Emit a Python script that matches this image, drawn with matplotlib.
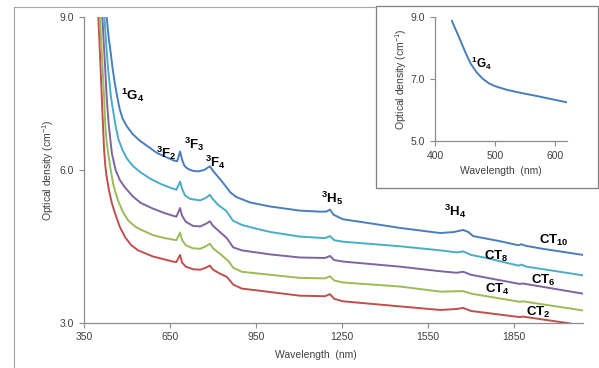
import numpy as np
import matplotlib
matplotlib.use("Agg")
import matplotlib.pyplot as plt
from matplotlib.lines import Line2D

plt.rcParams['font.family'] = ['Liberation Sans', 'DejaVu Sans']
plt.rcParams['mathtext.fontset'] = 'custom'
plt.rcParams['mathtext.rm'] = 'Liberation Sans'
plt.rcParams['mathtext.bf'] = 'Liberation Sans:bold'

# CT2 (red)
wl_ct2 = [400, 404, 408, 412, 416, 420, 424, 428, 437, 447, 458, 475, 493, 515, 539, 590, 632, 660, 672, 685,
          692, 705, 730, 755, 775, 789, 800, 825, 848, 870, 900, 988, 1103, 1190, 1208, 1222, 1253, 1452,
          1592, 1650, 1672, 1700, 1870, 1880, 2040, 2090]
od_ct2 = [9.0, 8.5, 7.98, 7.43, 6.9, 6.4, 6.1, 5.9, 5.6, 5.35, 5.15, 4.88, 4.68, 4.52, 4.42, 4.3, 4.24, 4.2,
          4.19, 4.33, 4.18, 4.1, 4.05, 4.04, 4.08, 4.12, 4.04, 3.96, 3.9, 3.75, 3.67, 3.61, 3.53, 3.52, 3.56,
          3.47, 3.42, 3.32, 3.25, 3.27, 3.29, 3.23, 3.11, 3.12, 2.99, 2.92]
# CT4 (green)
wl_ct4 = [406, 410, 415, 420, 424, 428, 435, 443, 452, 460, 470, 485, 505, 530, 551, 590, 632, 672, 685, 692,
          705, 730, 755, 775, 789, 800, 825, 855, 870, 900, 1000, 1103, 1190, 1208, 1222, 1253, 1452, 1592,
          1672, 1700, 1870, 1880, 2090]
od_ct4 = [9.0, 8.5, 7.98, 7.43, 6.9, 6.6, 6.3, 6.0, 5.72, 5.55, 5.38, 5.18, 5.0, 4.88, 4.82, 4.72, 4.66,
          4.62, 4.77, 4.62, 4.52, 4.46, 4.45, 4.5, 4.55, 4.46, 4.35, 4.2, 4.08, 4.0, 3.94, 3.88, 3.87, 3.91,
          3.83, 3.79, 3.71, 3.61, 3.62, 3.57, 3.41, 3.42, 3.24]
# CT6 (purple)
wl_ct6 = [414, 419, 424, 429, 436, 447, 460, 475, 492, 520, 548, 590, 632, 660, 672, 685, 692, 705, 730, 755,
          775, 789, 800, 820, 848, 870, 900, 1000, 1103, 1190, 1208, 1222, 1253, 1452, 1592, 1650, 1672,
          1700, 1870, 1880, 2090]
od_ct6 = [9.0, 8.48, 7.98, 7.43, 6.9, 6.33, 6.0, 5.8, 5.66, 5.48, 5.35, 5.24, 5.15, 5.1, 5.08, 5.25, 5.1,
          4.98, 4.9, 4.89, 4.94, 4.99, 4.9, 4.8, 4.66, 4.48, 4.42, 4.34, 4.28, 4.27, 4.31, 4.23, 4.2, 4.1,
          4.01, 3.98, 4.0, 3.94, 3.76, 3.77, 3.57]
# CT8 (cyan)
wl_ct8 = [421, 427, 434, 444, 459, 470, 485, 500, 520, 545, 580, 615, 650, 672, 685, 692, 702, 720, 755, 775,
          789, 800, 820, 845, 870, 900, 940, 1000, 1103, 1190, 1208, 1222, 1253, 1452, 1592, 1650, 1672,
          1700, 1753, 1865, 1875, 1893, 2090]
od_ct8 = [9.0, 8.5, 7.98, 7.43, 6.9, 6.6, 6.38, 6.22, 6.08, 5.96, 5.83, 5.73, 5.65, 5.61, 5.77, 5.63, 5.5,
          5.43, 5.4, 5.45, 5.51, 5.42, 5.3, 5.2, 5.0, 4.92, 4.86, 4.78, 4.69, 4.66, 4.7, 4.62, 4.59, 4.5,
          4.42, 4.38, 4.4, 4.33, 4.27, 4.12, 4.14, 4.1, 3.93]
# CT10 (blue)
wl_ct10 = [429, 436, 443, 450, 458, 466, 475, 485, 500, 520, 545, 575, 605, 640, 665, 675, 685, 692, 700, 712,
           730, 750, 770, 789, 800, 815, 830, 845, 860, 880, 929, 1000, 1103, 1170, 1195, 1208, 1220, 1253,
           1337, 1452, 1592, 1640, 1672, 1690, 1707, 1800, 1865, 1875, 1890, 1950, 2090]
od_ct10 = [9.0, 8.6, 8.3, 7.98, 7.68, 7.43, 7.18, 7.0, 6.85, 6.7, 6.57, 6.45, 6.33, 6.24, 6.18, 6.17, 6.36,
           6.2, 6.08, 6.02, 5.98, 5.97, 6.0, 6.07, 5.98, 5.88, 5.78, 5.67, 5.56, 5.47, 5.36, 5.28, 5.2, 5.18,
           5.18, 5.22, 5.12, 5.03, 4.96, 4.86, 4.76, 4.78, 4.82, 4.78, 4.7, 4.6, 4.52, 4.54, 4.51, 4.45, 4.33]

# inset: CT10 near the 1G4 band
wl_inset = [428, 440, 452, 460, 470, 480, 490, 500, 520, 541, 570, 597, 619]
od_inset = [8.88, 8.35, 7.8, 7.48, 7.2, 7.0, 6.86, 6.77, 6.65, 6.56, 6.45, 6.34, 6.25]

series = [
    (wl_ct2, od_ct2, '#C0504D', 'CT', '2', 1890, 3.06),
    (wl_ct4, od_ct4, '#9BBB59', 'CT', '4', 1750, 3.5),
    (wl_ct6, od_ct6, '#8064A2', 'CT', '6', 1910, 3.68),
    (wl_ct8, od_ct8, '#4BACC6', 'CT', '8', 1745, 4.15),
    (wl_ct10, od_ct10, '#4A7EBB', 'CT', '10', 1935, 4.47),
]
bands = [('1', 'G', '4', 478, 7.3), ('3', 'F', '2', 600, 6.15), ('3', 'F', '3', 697, 6.33),
         ('3', 'F', '4', 773, 5.98), ('3', 'H', '5', 1175, 5.27), ('3', 'H', '4', 1605, 5.02)]

xticks = [350, 650, 950, 1250, 1550, 1850]
yticks = [3.0, 6.0, 9.0]

grey = '#8c8c8c'
txt = '#404040'

fig = plt.figure(figsize=(5.99, 3.68), dpi=100)
ax = fig.add_axes([84/599, 1-322.7/368, (583-84)/599, (322.7-17)/368])

for wl, od, c, pre, sub, lx, ly in series:
    ax.plot(wl, od, color=c, lw=1.4, solid_joinstyle='round', solid_capstyle='round')
    ax.text(lx, ly, r'$\mathbf{%s}_{\mathbf{%s}}$' % (pre, sub), fontsize=9.5, ha='left', va='bottom')

for sup, letter, sub, bx, by in bands:
    ax.text(bx, by, r'$^{\mathbf{%s}}\mathbf{%s}_{\mathbf{%s}}$' % (sup, letter, sub),
            fontsize=9.5, ha='left', va='bottom')

ax.set_xlim(350, 2090)
ax.set_ylim(3.0, 9.0)
ax.set_xticks(xticks)
ax.set_yticks(yticks)
ax.set_yticklabels(['%.1f' % v for v in yticks])
for s in ['top', 'right']:
    ax.spines[s].set_visible(False)
for s in ['left', 'bottom']:
    ax.spines[s].set_color(grey)
    ax.spines[s].set_linewidth(0.9)
ax.tick_params(colors=grey, labelcolor=txt, labelsize=7.5, length=3.5, width=0.8, direction='out')
ax.set_xlabel('Wavelength  (nm)', fontsize=7.5, color=txt)
ax.xaxis.set_label_coords(0.465, -0.09)
ax.set_ylabel('Optical density (cm$^{-1}$)', fontsize=7.5, color=txt, labelpad=3)

# inset frame
fig.add_artist(plt.Rectangle((376/599, 1-188/368), (598-376)/599, (188-6)/368, transform=fig.transFigure,
                             fill=True, facecolor='white', edgecolor='#7f7f7f', lw=0.9, zorder=3))
ins = fig.add_axes([435/599, 1-141/368, (567-435)/599, (141-17)/368], zorder=4)
ins.patch.set_alpha(0)
ins.plot(wl_inset, od_inset, color='#4A7EBB', lw=1.4, solid_capstyle='round')
ins.text(460, 7.22, r'$^{\mathbf{1}}\mathbf{G}_{\mathbf{4}}$', fontsize=8.5, ha='left', va='bottom')
ins.set_xlim(400, 620)
ins.set_ylim(5.0, 9.0)
ins.set_xticks([400, 500, 600])
ins.set_yticks([5.0, 7.0, 9.0])
ins.set_yticklabels(['5.0', '7.0', '9.0'])
for s in ['top', 'right']:
    ins.spines[s].set_visible(False)
for s in ['left', 'bottom']:
    ins.spines[s].set_color(grey)
    ins.spines[s].set_linewidth(0.9)
ins.tick_params(colors=grey, labelcolor=txt, labelsize=7.5, length=3.5, width=0.8, direction='out')
ins.set_xlabel('Wavelength  (nm)', fontsize=7.5, color=txt, labelpad=4)
ins.set_ylabel('Optical density (cm$^{-1}$)', fontsize=7.5, color=txt, labelpad=1)

# outer frame lines (left and top)
fig.add_artist(Line2D([14/599, 14/599], [0, 1-7/368], transform=fig.transFigure, color='#a6a6a6', lw=0.8))
fig.add_artist(Line2D([14/599, 376/599], [1-7/368, 1-7/368], transform=fig.transFigure, color='#a6a6a6', lw=0.8))

fig.savefig('out.png', dpi=100)
